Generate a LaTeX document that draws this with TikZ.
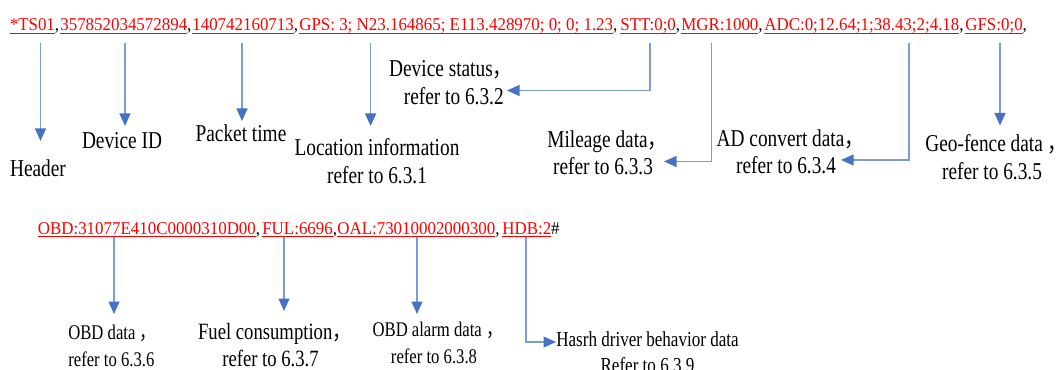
\documentclass[tikz,border=0pt]{standalone}
\usepackage{fontspec}
\setmainfont{Liberation Serif}
\newfontfamily\recfont[FakeStretch=0.94]{Liberation Serif}
\newfontfamily\lblfont[FakeStretch=0.8]{Liberation Serif}
\newfontfamily\cjk[FakeStretch=0.8]{Noto Sans CJK SC}
\usepackage{xcolor}
\usetikzlibrary{positioning,arrows.meta}
\definecolor{linkblue}{RGB}{126,156,212}
\definecolor{tipblue}{RGB}{68,114,196}

\begin{document}
\begin{tikzpicture}[x=0.6pt,y=-0.6pt,
    rec/.style={inner sep=0pt,anchor=base west,font=\recfont\fontsize{10.8}{12}\selectfont},
    lbl/.style={inner sep=0pt,align=center,font=\lblfont\fontsize{14.5}{16.5}\selectfont},
    smalllbl/.style={lbl,font=\lblfont\fontsize{12.5}{16.2}\selectfont},
    arr/.style={draw=linkblue,line width=1pt,-{Triangle[width=6.5pt,length=7.5pt,color=tipblue]}}]
    \newcommand{\fld}[1]{\textcolor{red}{\setbox0\hbox{#1}\rlap{\rule[-1.9pt]{\wd0}{0.6pt}}\box0}}
    \newcommand{\fc}{\makebox[0.45em][l]{\cjk ，}}
    \useasboundingbox (0,0) rectangle (1058,370); \clip (0,0) rectangle (1058,370);
    \node[rec] (ts) at (9.5,30.5) {\fld{*TS01},};
    \node[rec] (imei) at (60,30.5) {\fld{357852034572894},};
    \node[rec] (ptime) at (192,30.5) {\fld{140742160713},};
    \node[rec] (gps) at (299,30.5) {\fld{GPS: 3; N23.164865; E113.428970; 0; 0; 1.23},};
    \node[rec] (stt) at (620,30.5) {\fld{STT:0;0},};
    \node[rec] (mgr) at (681,30.5) {\fld{MGR:1000},};
    \node[rec] (adc) at (764,30.5) {\fld{ADC:0;12.64;1;38.43;2;4.18},};
    \node[rec] (gfs) at (965,30.5) {\fld{GFS:0;0},};
    \node[rec] (obd) at (37.5,234) {\fld{OBD:31077E410C0000310D00},};
    \node[rec] (ful) at (262,234) {\fld{FUL:6696},};
    \node[rec] (oal) at (337,234) {\fld{OAL:73010002000300},};
    \node[rec] (hdb) at (502,234) {\fld{HDB:2}\#};
    \node[lbl] (hdrlbl) at (38,168) {Header};
    \node[lbl] (imeilbl) at (122,141) {Device ID};
    \node[lbl] (ptimelbl) at (241,133) {Packet time};
    \node[lbl] (gpslbl) at (377,161) {Location information\\refer to 6.3.1};
    \node[lbl,align=right,anchor=east] (sttlbl) at (504,82.5) {Device status\fc\\refer to 6.3.2};
    \node[lbl] (mgrlbl) at (603,153) {Mileage data\fc\\refer to 6.3.3};
    \node[lbl] (adclbl) at (786,152) {AD convert data\fc\\refer to 6.3.4};
    \node[lbl] (gfslbl) at (992,157) {Geo-fence data \fc\\refer to 6.3.5};
    \node[smalllbl,align=left,anchor=west] (obdlbl) at (68,346) {OBD data \fc\\refer to 6.3.6};
    \node[lbl,font=\lblfont\fontsize{14}{16.2}\selectfont] (fullbl) at (270.5,345.5) {Fuel consumption\fc\\refer to 6.3.7};
    \node[smalllbl] (oallbl) at (434,343) {OBD alarm data \fc\\refer to 6.3.8};
    \node[lbl,font=\lblfont\fontsize{12.8}{15.6}\selectfont] (hdblbl) at (647.5,352.5) {Hasrh driver behavior data\\Refer to 6.3.9};
    \foreach \s/\x/\t in {ts/40.5/141,imei/125/126,ptime/242/121,gps/370.6/126,gfs/1000/125.5}{
      \coordinate (\s tip) at (\x,\t);
      \draw[arr,shorten <=5.5pt] (\s tip |- \s.south) -- (\s tip);}
    \foreach \s/\x/\y/\t in {stt/650/90.5/507,mgr/711.5/161.5/664,adc/909/160/841}{
      \coordinate (\s tip) at (\t,\y);
      \draw[arr,shorten <=5.5pt] (\s.south -| \x,0) |- (\s tip);}
    \foreach \s/\x/\t in {obd/114/314,ful/284/311,oal/417/314}{
      \coordinate (\s tip) at (\x,\t);
      \draw[arr] (\s tip |- \s.south) -- (\s tip);}
    \coordinate (hdb tip) at (556,342);
    \draw[arr] (hdb.south -| 526,0) |- (hdb tip);
\end{tikzpicture}
\end{document}
